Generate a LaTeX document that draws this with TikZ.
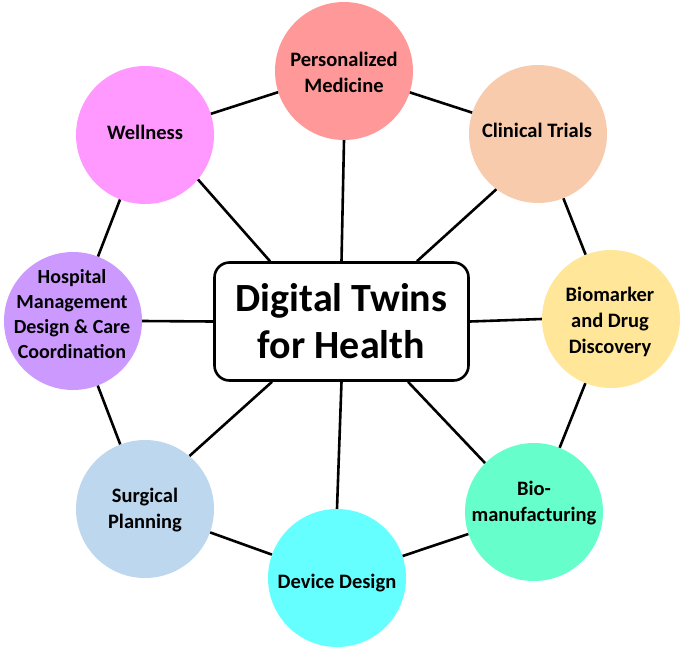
\documentclass[tikz,border=0pt]{standalone}
\usepackage{fontspec}
\setmainfont{Carlito}
\definecolor{cPM}{HTML}{FF9999}
\definecolor{cCT}{HTML}{F8CBAD}
\definecolor{cBD}{HTML}{FFE699}
\definecolor{cBM}{HTML}{66FFCC}
\definecolor{cDD}{HTML}{66FFFF}
\definecolor{cSP}{HTML}{BDD7EE}
\definecolor{cHM}{HTML}{CC99FF}
\definecolor{cWL}{HTML}{FF99FF}
\tikzset{
  topic/.style={circle, draw=none, minimum size=138pt, inner sep=0pt},
  lbl/.style={align=center, inner sep=0pt, font=\fontsize{20.5}{26}\selectfont\bfseries},
  hub/.style={draw=black, line width=2.6pt, rounded corners=15pt, minimum width=254pt,
    minimum height=118pt, align=center, font=\fontsize{40}{47}\selectfont\bfseries},
  link/.style={draw=black, line width=2.6pt}
}
\begin{document}
\begin{tikzpicture}[x=1pt,y=-1pt]
\useasboundingbox (0,0) rectangle (685,648);
\node[topic, fill=cPM] (pm) at (344,71) {};
\node[topic, fill=cCT] (ct) at (538,134) {};
\node[topic, fill=cBD] (bd) at (611,319) {};
\node[topic, fill=cBM] (bm) at (534,512) {};
\node[topic, fill=cDD] (dd) at (337,578) {};
\node[topic, fill=cSP] (sp) at (145,509) {};
\node[topic, fill=cHM] (hm) at (73,321) {};
\node[topic, fill=cWL] (wl) at (145,135) {};
\node[lbl] (pmt) at (344,72) {Personalized\\Medicine};
\node[lbl] (ctt) at (537,130) {Clinical Trials};
\node[lbl] (bdt) at (610,322) {Biomarker\\and Drug\\Discovery};
\node[lbl] (bmt) at (534,503) {Bio-\\manufacturing};
\node[lbl] (ddt) at (337,583) {Device Design};
\node[lbl] (spt) at (145,510) {Surgical\\Planning};
\node[lbl, font=\fontsize{20}{25}\selectfont\bfseries] (hmt) at (72,314) {Hospital\\Management\\Design \& Care\\Coordination};
\node[lbl] (wlt) at (145,132) {Wellness};
\node[hub, fill=white] (hub) at (341.5,321.5) {Digital Twins\\for Health};
% ring
\draw[link] (pm) -- (ct);
\draw[link] (ct) -- (bd);
\draw[link] (bd) -- (bm);
\draw[link] (bm) -- (dd);
\draw[link] (dd) -- (sp);
\draw[link] (sp) -- (hm);
\draw[link] (hm) -- (wl);
\draw[link] (wl) -- (pm);
% spokes
\draw[link] (pm.-90) -- (hub.north);
\draw[link] (wl.-40) -- ([xshift=-71.5pt]hub.north);
\draw[link] (ct.-127) -- ([xshift=75.5pt]hub.north);
\draw[link] (bd.180) -- (hub.east);
\draw[link] (hm.0) -- (hub.west);
\draw[link] (dd.90) -- (hub.south);
\draw[link] (sp.50) -- ([xshift=-69.5pt]hub.south);
\draw[link] (bm.135) -- ([xshift=66.5pt]hub.south);
\end{tikzpicture}
\end{document}
